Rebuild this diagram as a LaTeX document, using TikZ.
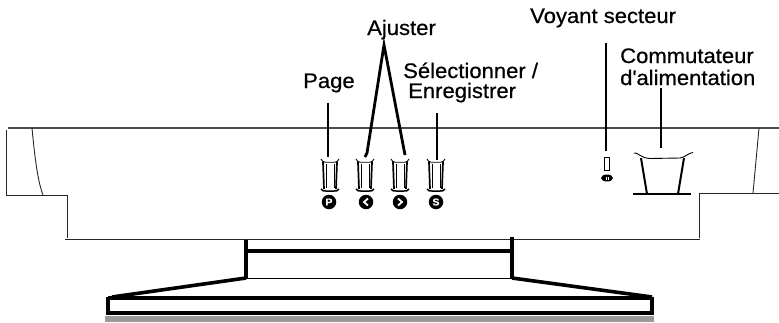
\documentclass[tikz,border=0pt]{standalone}
\usepackage{fontspec}
\setmainfont{Liberation Sans}[FakeBold=0.6, FakeStretch=1.05]
\usetikzlibrary{shapes.geometric}
\begin{document}
\begin{tikzpicture}[x=1pt,y=-1pt,
  lbl/.style={font=\fontsize{21}{23}\selectfont, anchor=base west, inner sep=0pt},
  bodyline/.style={draw=black!85, line width=0.9pt},
  topline/.style={draw=black!70, line width=1.3pt},
  pointer/.style={draw=black, line width=2.8pt},
  heavy/.style={draw=black, line width=3.2pt},
  icon/.style={circle, fill=black, minimum size=14.5pt, inner sep=0pt},
  iconlet/.style={text=white, font=\fontsize{10}{10}\selectfont\bfseries, inner sep=0pt},
  btn/.pic={
    \draw[line width=0.9pt] (-9,-2) .. controls (-8,0) and (-7,1) .. (-5,1.2) -- (5,1.2) .. controls (7,1) and (8,0) .. (9,-2);
    \draw[line width=1.7pt] (-7,1) -- (-6,28);
    \draw[line width=0.7pt] (-4,3) -- (-4,27);
    \draw[line width=1.7pt] (7,1) -- (6,28);
    \draw[line width=0.7pt] (4,3) -- (4,27);
    \draw[line width=1.5pt] (-9,28) .. controls (-7,30) .. (-4,30) -- (4,30) .. controls (7,30) .. (9,28);
  }]
\useasboundingbox (0,0) rectangle (779,322);

% ---- monitor body ----
\draw[topline] (8,128) -- (779,128);
\draw[bodyline] (6,130) -- (6,195) -- (68,195);
\draw[bodyline] (32,128) .. controls (35,160) and (38,182) .. (43,195);
\draw[bodyline] (67,195) -- (67,238);
\draw[bodyline] (65,239.5) -- (700,239.5);
\draw[bodyline] (699,238) -- (699,193) -- (779,193);
\draw[bodyline] (759,128) -- (753,193);

% ---- stand ----
\draw[line width=1pt] (246,278) -- (512,278);
\draw[line width=4pt] (246,251) -- (512,251);
\draw[heavy] (246,240) -- (246,279);
\draw[heavy] (512,237) -- (512,279);
\draw[line width=3.6pt] (246,278) -- (112,297);
\draw[line width=3.6pt] (512,278) -- (652,297);
\draw[line width=4pt] (108,298) -- (652,298);
\draw[line width=4.5pt] (108,313) -- (652,313);
\draw[heavy] (108,296.5) -- (108,315);
\draw[heavy] (652,296.5) -- (652,315);
\fill[black!40] (105,316) rectangle (654,321.5);

% ---- buttons ----
\pic at (330,161) {btn};
\pic at (365,161) {btn};
\pic at (400,161) {btn};
\pic at (436,161) {btn};

\node[icon] (iP) at (329,202) {};
\node[icon] (iL) at (366,202) {};
\node[icon] (iR) at (400,202) {};
\node[icon] (iS) at (436,202) {};
\node[iconlet] at (iP) {P};
\node[iconlet] at (iS) {S};
\draw[white, line width=1.8pt] ([xshift=2pt,yshift=3.5pt]iL.center) -- ([xshift=-2pt]iL.center) -- ([xshift=2pt,yshift=-3.5pt]iL.center);
\draw[white, line width=1.8pt] ([xshift=-2pt,yshift=3.5pt]iR.center) -- ([xshift=2pt]iR.center) -- ([xshift=-2pt,yshift=-3.5pt]iR.center);

% ---- power LED ----
\draw[line width=0.8pt] (604,157) rectangle (609,170);
\node[ellipse, fill=black, minimum width=12pt, minimum height=7pt, inner sep=0pt] (eye) at (607,178) {};
\draw[white, line width=0.8pt] (606,176.5) -- (606,179.5) (608,176.5) -- (608,179.5);

% ---- power switch ----
\draw[line width=0.9pt] (634,153) .. controls (638,152) and (640,158) .. (650,158.5) -- (680,158) .. controls (686,157) and (688,153) .. (693,152.5);
\draw[line width=2pt] (641,158) -- (647,194);
\draw[line width=2pt] (684,158) -- (678,194);
\draw[line width=1.2pt] (633,194) -- (691,194);

% ---- labels ----
\node[lbl] (page) at (303,88) {Page};
\node[lbl] (ajust) at (367,35) {Ajuster};
\node[lbl] (sel) at (403,78) {Sélectionner /};
\node[lbl] (enr) at (408,98) {Enregistrer};
\node[lbl] (voy) at (530,23) {Voyant secteur};
\node[lbl] (com) at (620,63) {Commutateur};
\node[lbl] (ali) at (620,85) {d\textquotesingle alimentation};

% ---- pointer lines ----
\coordinate (apex) at (384,45);
\coordinate (pageEnd) at (328,157);
\coordinate (leftEnd) at (367,153);
\coordinate (rightEnd) at (405,155);
\coordinate (selEnd) at (437,160);
\coordinate (voyEnd) at (606,151);
\coordinate (comEnd) at (661,148);
\draw[pointer] (page.south -| pageEnd) ++(0,10) -- (pageEnd);
\draw[pointer] (leftEnd) ++(-2,4) -- (leftEnd) -- (apex) -- (rightEnd);
\draw[pointer] (437,113) -- (selEnd);
\draw[pointer] (606,43) -- (voyEnd);
\draw[line width=1.6pt] (661,88) -- (comEnd);
\end{tikzpicture}
\end{document}
